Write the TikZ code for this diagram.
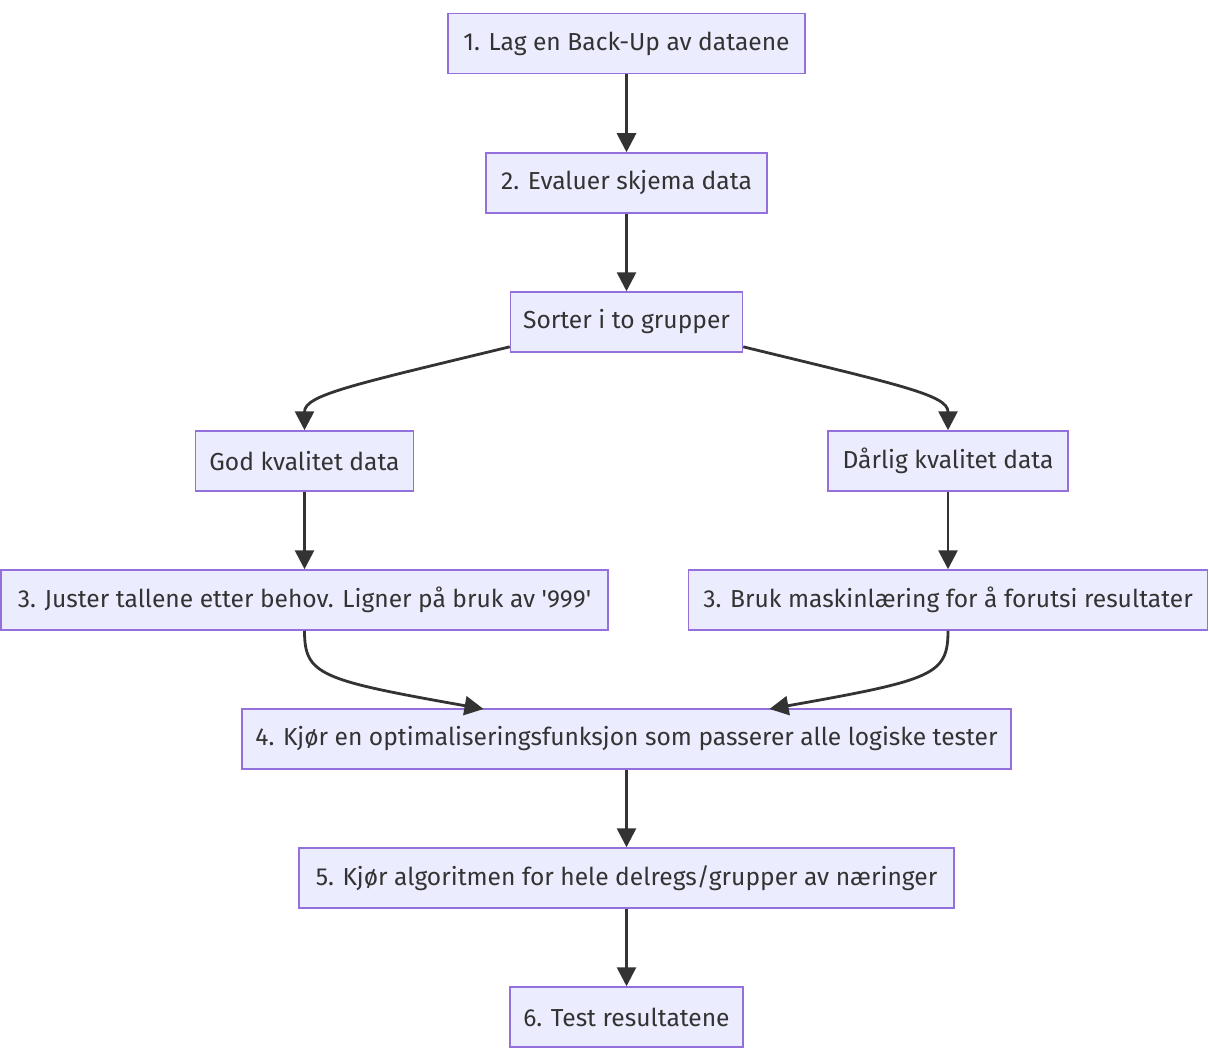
\documentclass[tikz,border=0pt]{standalone}
\usepackage{fontspec}
\setmainfont{Fira Sans}
\usetikzlibrary{arrows.meta}
\definecolor{boxfill}{HTML}{ECECFF}
\definecolor{boxline}{HTML}{9370DB}
\definecolor{arrowline}{HTML}{333333}

\begin{document}
\begin{tikzpicture}[x=1pt, y=-1pt,
		box/.style={draw=boxline, fill=boxfill, line width=1.5pt, minimum height=60pt, inner sep=0pt,
			text=arrowline, font=\fontsize{24.6}{29}\selectfont},
		flow/.style={draw=arrowline, line width=2.8pt, -{Triangle[length=19pt, width=19pt]}}]
		\useasboundingbox (0, 0) rectangle (1209, 1059);

		\node[box, minimum width=357pt] (Backup)   at (626.5, 43.5) {1. Lag en Back-Up av dataene};
		\node[box, minimum width=281pt] (Evaluate) at (626.5, 183)  {2. Evaluer skjema data};
		\node[box, minimum width=232pt] (Sort)     at (626.5, 322)  {Sorter i to grupper};
		\node[box, minimum width=218pt] (Good)     at (304.5, 461)  {God kvalitet data};
		\node[box, minimum width=240pt] (Bad)      at (948, 461)    {Dårlig kvalitet data};
		\node[box, minimum width=607pt] (Adjust)   at (304.5, 600)  {3. Juster tallene etter behov. Ligner på bruk av \textquotesingle 999\textquotesingle};
		\node[box, minimum width=519pt] (Learn)    at (948, 600)    {3. Bruk maskinlæring for å forutsi resultater};
		\node[box, minimum width=769pt] (Optimize) at (626.5, 739)  {4. Kjør en optimaliseringsfunksjon som passerer alle logiske tester};
		\node[box, minimum width=655pt] (Run)      at (626.5, 878)  {5. Kjør algoritmen for hele delregs/grupper av næringer};
		\node[box, minimum width=233pt] (Test)     at (626.5, 1017) {6. Test resultatene};

		\coordinate (OptLeft)  at (483.5, 709);
		\coordinate (OptRight) at (769.5, 709);

		\draw[flow] (Backup)   -- (Evaluate);
		\draw[flow] (Evaluate) -- (Sort);
		\draw[flow] (Sort.192) .. controls (352, 385) and (304.5, 395) .. (Good.north);
		\draw[flow] (Sort.-12) .. controls (900, 385) and (948, 395) .. (Bad.north);
		\draw[flow] (Good)     -- (Adjust);
		\draw[flow] (Bad)      -- (Learn);
		\draw[flow] (Adjust.south) .. controls (304.5, 675) and (320, 680) .. (OptLeft);
		\draw[flow] (Learn.south)  .. controls (948, 675) and (933, 680) .. (OptRight);
		\draw[flow] (Optimize) -- (Run);
		\draw[flow] (Run)      -- (Test);
	\end{tikzpicture}
\end{document}
